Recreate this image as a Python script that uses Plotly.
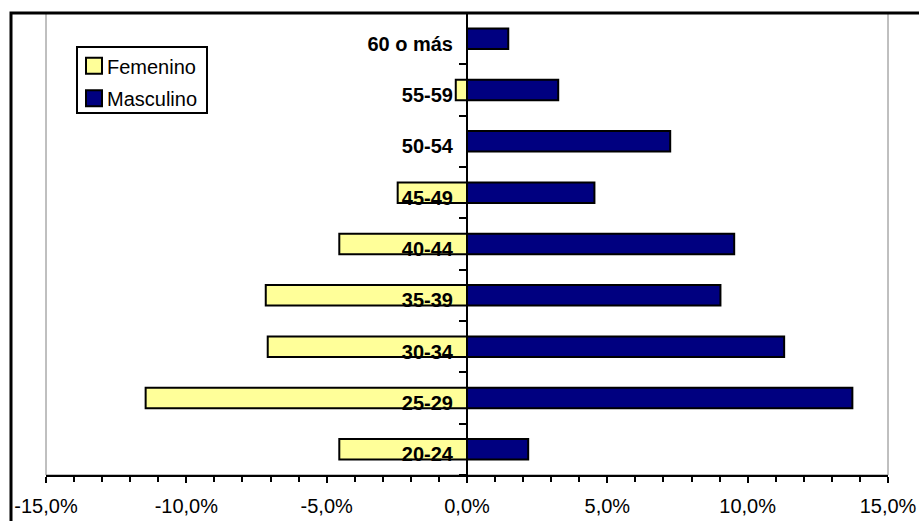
import plotly.graph_objects as go

categories = ["20-24", "25-29", "30-34", "35-39", "40-44", "45-49", "50-54", "55-59", "60 o más"]
femenino = [-4.55, -11.45, -7.10, -7.17, -4.55, -2.47, 0.0, -0.40, 0.0]
masculino = [2.18, 13.73, 11.30, 9.03, 9.52, 4.54, 7.24, 3.25, 1.47]
x_tick_vals = [-15, -10, -5, 0, 5, 10, 15]
x_tick_labels = ["-15,0%", "-10,0%", "-5,0%", "0,0%", "5,0%", "10,0%", "15,0%"]
series_names = ["Femenino", "Masculino"]
series_colors = ["#FFFF99", "#000080"]

FONT = "Liberation Sans, Arial, sans-serif"

fig = go.Figure()
for vals, name, col in zip([femenino, masculino], series_names, series_colors):
    fig.add_trace(go.Bar(
        y=categories, x=vals, orientation="h", name=name,
        marker=dict(color=col, line=dict(color="black", width=2)),
        showlegend=False,
    ))

L, R, T, B = 46, 31, 13, 46
W, H = 919, 521
pw = W - L - R
ph = H - T - B

def px(xp):
    return (xp - L) / pw

def py(yp):
    return (H - B - yp) / ph

shapes = [
    dict(type="rect", xref="paper", yref="paper", x0=0, x1=1, y0=0, y1=1,
         line=dict(color="#808080", width=1), layer="below"),
    dict(type="rect", xref="paper", yref="paper",
         x0=px(11), x1=1.2, y0=-0.3, y1=1.0,
         line=dict(color="black", width=3), layer="above"),
    # legend box
    dict(type="rect", xref="paper", yref="paper",
         x0=px(77), x1=px(207), y0=py(113), y1=py(47),
         line=dict(color="black", width=2), fillcolor="white", layer="above"),
]
annotations = []
legend_y = [65.7, 98.3]
for name, col, yc in zip(series_names, series_colors, legend_y):
    shapes.append(dict(type="rect", xref="paper", yref="paper",
                       x0=px(86), x1=px(102), y0=py(yc + 8), y1=py(yc - 8),
                       line=dict(color="black", width=2), fillcolor=col, layer="above"))
    annotations.append(dict(xref="paper", yref="paper", x=px(105), y=py(yc + 1),
                            text=name, showarrow=False, xanchor="left", yanchor="middle",
                            font=dict(family=FONT, size=20, color="black")))

fig.update_layout(
    width=W, height=H,
    margin=dict(l=L, r=R, t=T, b=B, autoexpand=False),
    barmode="relative",
    bargap=0.6,
    plot_bgcolor="white",
    paper_bgcolor="white",
    font=dict(family=FONT, size=20, color="black"),
    showlegend=False,
    xaxis=dict(
        range=[-15, 15],
        tickvals=x_tick_vals, ticktext=x_tick_labels,
        ticks="outside", ticklen=6, tickwidth=2, tickcolor="black",
        minor=dict(dtick=1, ticks="outside", ticklen=5, tickwidth=2, tickcolor="black"),
        showline=True, linecolor="black", linewidth=2,
        showgrid=False, zeroline=False, automargin=False,
        tickfont=dict(family=FONT, size=20, color="black"),
        ticklabelstandoff=6,
    ),
    yaxis=dict(
        type="category", automargin=False,
        anchor="free", position=0.5,
        showline=True, linecolor="black", linewidth=2,
        ticks="outside", tickson="boundaries", ticklen=7, tickwidth=2, tickcolor="black",
        showgrid=False, zeroline=False,
        tickfont=dict(family=FONT, size=20, color="black", weight="bold"),
        ticklabelstandoff=9, ticklabelshift=5,
    ),
    shapes=shapes,
    annotations=annotations,
)

fig.write_html("out.html")
